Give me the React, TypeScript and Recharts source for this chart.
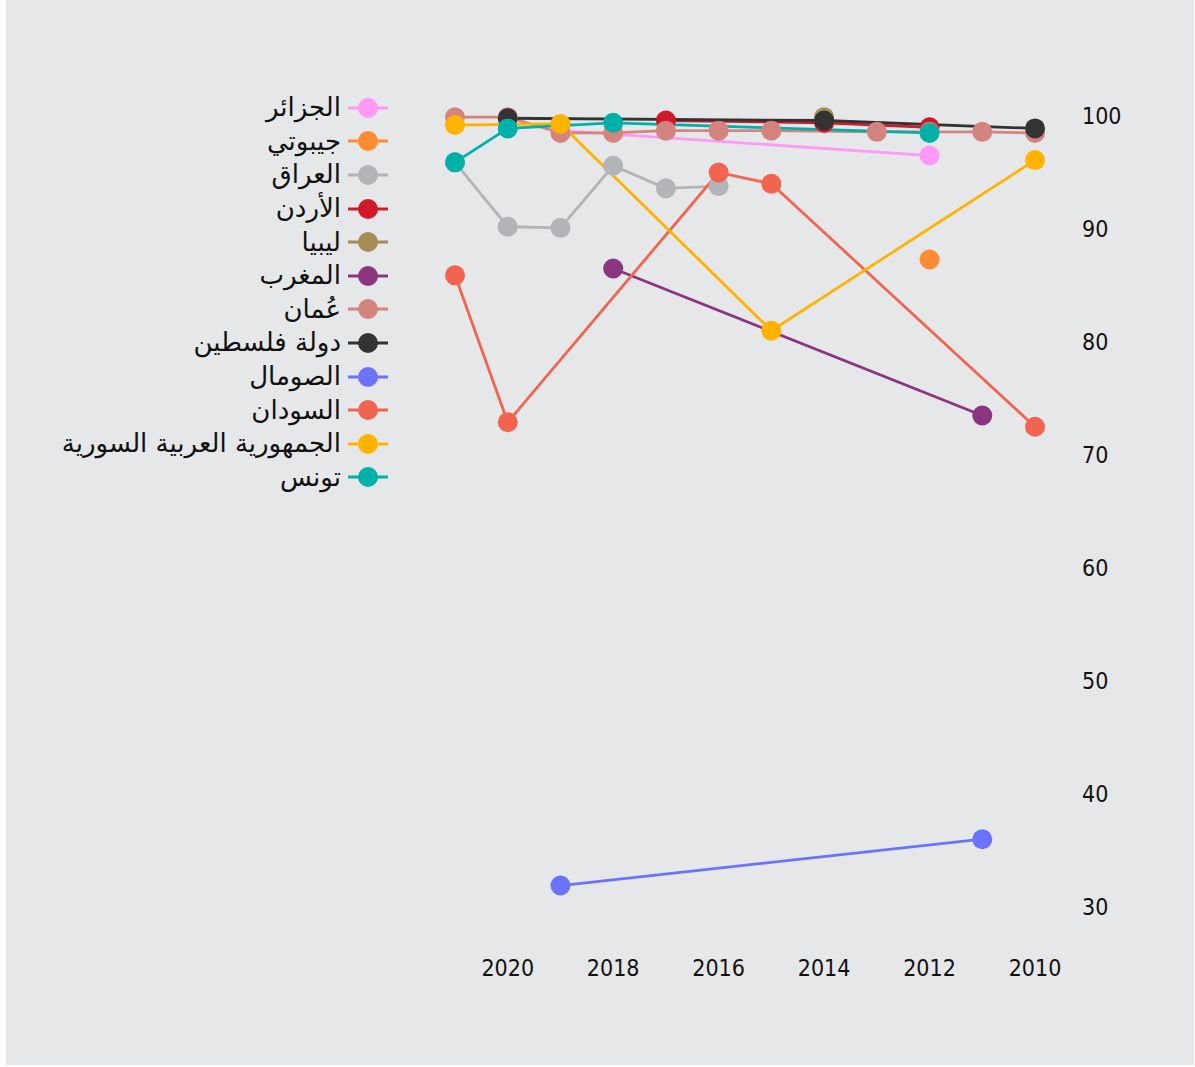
import React from "react";
import { LineChart, Line, XAxis, YAxis } from "recharts";

const years = [2021, 2020, 2019, 2018, 2017, 2016, 2015, 2014, 2013, 2012, 2011, 2010];
const xTicks = [2020, 2018, 2016, 2014, 2012, 2010];
const yTicks = [30, 40, 50, 60, 70, 80, 90, 100];

// values per year, in the order of `years`
const algeria = [null, null, 98.7, null, null, null, null, null, null, 96.5, null, null];
const djibouti = [null, null, null, null, null, null, null, null, null, 87.3, null, null];
const iraq = [95.9, 90.2, 90.1, 95.6, 93.6, 93.8, null, null, null, null, null, null];
const jordan = [null, null, null, null, 99.6, null, null, 99.4, null, 99.0, null, null];
const libya = [null, null, null, null, null, null, null, 99.9, null, null, null, null];
const morocco = [null, null, null, 86.5, null, null, null, null, null, null, 73.5, null];
const oman = [99.9, 99.9, 98.5, 98.5, 98.7, 98.7, 98.7, null, 98.6, 98.6, 98.6, 98.5];
const palestine = [null, 99.8, null, null, null, null, null, 99.6, null, null, null, 98.9];
const somalia = [null, null, 31.9, null, null, null, null, null, null, null, 36.0, null];
const sudan = [85.9, 72.9, null, null, null, 95.0, 94.0, null, null, null, null, 72.5];
const syria = [99.2, null, 99.3, null, null, null, 81.0, null, null, null, null, 96.1];
const tunisia = [95.9, 98.9, null, 99.4, null, null, null, null, null, 98.5, null, null];

const seriesNames = [
  "الجزائر",
  "جيبوتي",
  "العراق",
  "الأردن",
  "ليبيا",
  "المغرب",
  "عُمان",
  "دولة فلسطين",
  "الصومال",
  "السودان",
  "الجمهورية العربية السورية",
  "تونس",
];
const seriesValues = [algeria, djibouti, iraq, jordan, libya, morocco, oman, palestine, somalia, sudan, syria, tunisia];
const seriesColors = [
  "#ff99f6",
  "#ff8c33",
  "#b3b4b7",
  "#d0192b",
  "#a68c55",
  "#8b3580",
  "#d4847f",
  "#333333",
  "#6b72ff",
  "#f26450",
  "#ffb200",
  "#00b0a9",
];

const data = years.map((year, i) => {
  const row: Record<string, number | null> = { year };
  seriesValues.forEach((vals, s) => {
    row["s" + s] = vals[i];
  });
  return row;
});

const tickFont = "'DejaVu Sans', sans-serif";
const tickStyle = {
  fill: "#111",
  fontSize: 23,
  fontFamily: tickFont,
  fontStretch: "condensed",
  style: { fontStretch: "condensed" },
};

const LegendBlock = () => (
  <div style={{ position: "absolute", left: 0, top: 91, width: 382 }}>
    {seriesNames.map((name, i) => (
      <div
        key={name}
        style={{
          height: 33.6,
          display: "flex",
          alignItems: "center",
          justifyContent: "flex-end",
        }}
      >
        <span
          style={{
            fontFamily: "'DejaVu Sans', sans-serif",
            fontSize: 26,
            color: "#111",
            direction: "rtl",
            whiteSpace: "nowrap",
            marginRight: 7,
            lineHeight: "33px",
          }}
        >
          {name}
        </span>
        <svg width={40} height={24} style={{ flex: "none" }}>
          <line x1={0} y1={12} x2={40} y2={12} stroke={seriesColors[i]} strokeWidth={2.8} />
          <circle cx={20} cy={12} r={10} fill={seriesColors[i]} />
        </svg>
      </div>
    ))}
  </div>
);

export default function App() {
  return (
    <div
      style={{
        position: "absolute",
        left: 6,
        top: 0,
        width: 1188,
        height: 1065,
        background: "#e6e7e8",
      }}
    >
      <LineChart
        width={1188}
        height={1065}
        data={data}
        margin={{ top: 116, right: 99, bottom: 98, left: 449 }}
      >
        <XAxis
          dataKey="year"
          type="number"
          domain={[2010, 2021]}
          reversed
          ticks={xTicks}
          axisLine={false}
          tickLine={false}
          tickMargin={47}
          height={60}
          tick={tickStyle}
          interval={0}
        />
        <YAxis
          orientation="right"
          type="number"
          domain={[30, 100]}
          ticks={yTicks}
          axisLine={false}
          tickLine={false}
          tickMargin={41}
          width={60}
          tick={{ ...tickStyle, textAnchor: "start" }}
          interval={0}
        />
        {seriesNames.map((name, i) => (
          <Line
            key={name}
            dataKey={"s" + i}
            name={name}
            stroke={seriesColors[i]}
            strokeWidth={2.8}
            connectNulls
            isAnimationActive={false}
            dot={{ r: 10, fill: seriesColors[i], stroke: "none", fillOpacity: 1 }}
            activeDot={false}
          />
        ))}
      </LineChart>
      <LegendBlock />
    </div>
  );
}
